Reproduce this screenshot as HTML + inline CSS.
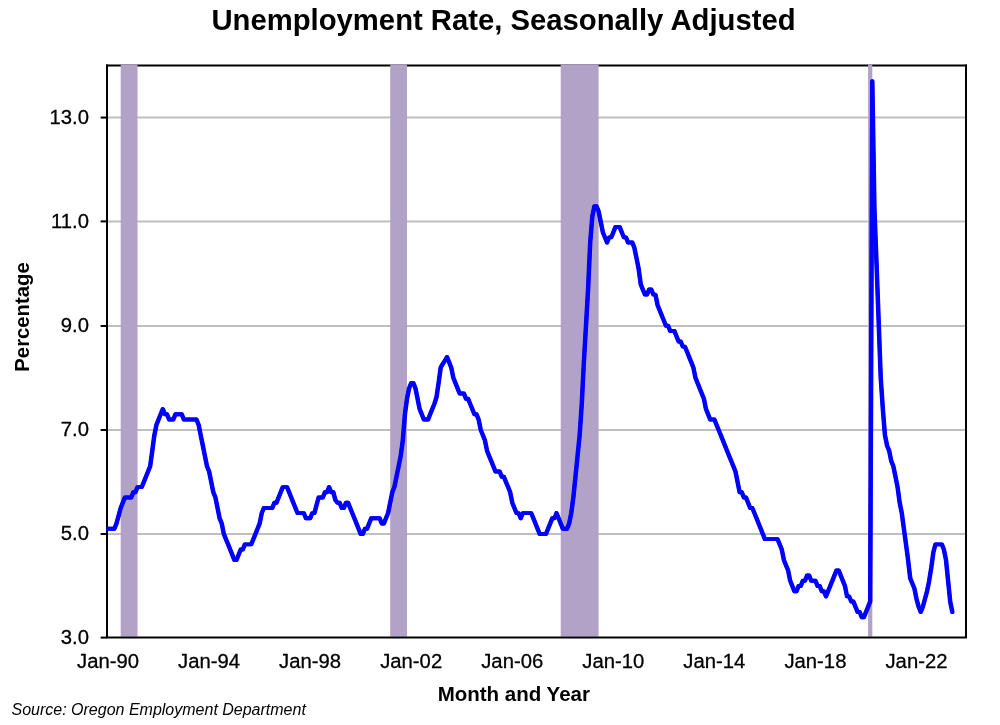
<!DOCTYPE html>
<html lang="en">
<head>
<meta charset="utf-8">
<title>Unemployment Rate, Seasonally Adjusted</title>
<style>
html,body{margin:0;padding:0;background:#fff;}
body{width:1000px;height:725px;overflow:hidden;font-family:"Liberation Sans",sans-serif;}
svg{display:block;}
text{font-family:"Liberation Sans",sans-serif;fill:#000;}
.t{font-size:20.3px;stroke:#000;stroke-width:0.28px;}
.b{font-size:20.3px;font-weight:bold;}
.title{font-size:29.25px;font-weight:bold;}
.src{font-size:16px;font-style:italic;}
</style>
</head>
<body>
<svg width="1000" height="725" viewBox="0 0 1000 725">
<rect x="0" y="0" width="1000" height="725" fill="#ffffff"/>
<text x="503.5" y="30" text-anchor="middle" class="title">Unemployment Rate, Seasonally Adjusted</text>
<g>
<line x1="107.0" x2="966.0" y1="534.00" y2="534.00" stroke="#bfbfbf" stroke-width="2"/>
<line x1="107.0" x2="966.0" y1="430.00" y2="430.00" stroke="#bfbfbf" stroke-width="2"/>
<line x1="107.0" x2="966.0" y1="326.00" y2="326.00" stroke="#bfbfbf" stroke-width="2"/>
<line x1="107.0" x2="966.0" y1="221.40" y2="221.40" stroke="#bfbfbf" stroke-width="2"/>
<line x1="107.0" x2="966.0" y1="117.55" y2="117.55" stroke="#bfbfbf" stroke-width="2"/>
</g>
<path d="M106.0 65.5H967.0" fill="none" stroke="#000" stroke-width="2"/>
<g>
<rect x="120.69" y="64.50" width="16.84" height="572.10" fill="#b3a2c7"/>
<rect x="390.18" y="64.50" width="16.84" height="572.10" fill="#b3a2c7"/>
<rect x="560.71" y="64.50" width="37.90" height="572.10" fill="#b3a2c7"/>
<rect x="868.10" y="64.50" width="4.21" height="572.10" fill="#b3a2c7"/>
</g>
<path d="M107.0 64.5V638.6M966.0 64.5V638.6M106.0 637.6H967.0" fill="none" stroke="#000" stroke-width="2"/>
<g>
<line x1="100.6" x2="107.0" y1="637.60" y2="637.60" stroke="#000" stroke-width="2"/>
<line x1="100.6" x2="107.0" y1="534.00" y2="534.00" stroke="#000" stroke-width="2"/>
<line x1="100.6" x2="107.0" y1="430.00" y2="430.00" stroke="#000" stroke-width="2"/>
<line x1="100.6" x2="107.0" y1="326.00" y2="326.00" stroke="#000" stroke-width="2"/>
<line x1="100.6" x2="107.0" y1="221.40" y2="221.40" stroke="#000" stroke-width="2"/>
<line x1="100.6" x2="107.0" y1="117.55" y2="117.55" stroke="#000" stroke-width="2"/>
</g>
<g fill="none" stroke="#0000ff" stroke-width="3.95" stroke-linejoin="round" stroke-linecap="round">
<polyline transform="translate(-0.27 0)" points="108.05,528.74 110.16,528.74 112.26,528.74 114.37,528.74 116.47,523.53 118.58,515.73 120.69,507.93 122.79,502.72 124.90,497.52 127.00,497.52 129.11,497.52 131.21,497.52 133.32,492.32 135.42,492.32 137.53,487.11 139.63,487.11 141.74,487.11 143.84,481.91 145.95,476.71 148.06,471.50 150.16,466.30 152.27,450.69 154.37,435.08 156.48,424.68 158.58,419.47 160.69,414.27 162.79,409.07 164.90,414.27 167.00,414.27 169.11,419.47 171.21,419.47 173.32,419.47 175.43,414.27 177.53,414.27 179.64,414.27 181.74,414.27 183.85,419.47 185.95,419.47 188.06,419.47 190.16,419.47 192.27,419.47 194.37,419.47 196.48,419.47 198.58,424.68 200.69,435.08 202.80,445.49 204.90,455.89 207.01,466.30 209.11,471.50 211.22,481.91 213.32,492.32 215.43,497.52 217.53,507.93 219.64,518.33 221.74,523.53 223.85,533.94 225.95,539.14 228.06,544.35 230.17,549.55 232.27,554.75 234.38,559.96 236.48,559.96 238.59,554.75 240.69,549.55 242.80,549.55 244.90,544.35 247.01,544.35 249.11,544.35 251.22,544.35 253.32,539.14 255.43,533.94 257.54,528.74 259.64,523.53 261.75,513.13 263.85,507.93 265.96,507.93 268.06,507.93 270.17,507.93 272.27,507.93 274.38,502.72 276.48,502.72 278.59,497.52 280.69,492.32 282.80,487.11 284.91,487.11 287.01,487.11 289.12,492.32 291.22,497.52 293.33,502.72 295.43,507.93 297.54,513.13 299.64,513.13 301.75,513.13 303.85,513.13 305.96,518.33 308.06,518.33 310.17,518.33 312.28,513.13 314.38,513.13 316.49,505.32 318.59,497.52 320.70,497.52 322.80,497.52 324.91,492.32 327.01,492.32 329.12,487.11 331.22,492.32 333.33,492.32 335.44,500.12 337.54,502.72 339.65,502.72 341.75,507.93 343.86,507.93 345.96,502.72 348.07,502.72 350.17,507.93 352.28,513.13 354.38,518.33 356.49,523.53 358.59,528.74 360.70,533.94 362.81,533.94 364.91,528.74 367.02,528.74 369.12,523.53 371.23,518.33 373.33,518.33 375.44,518.33 377.54,518.33 379.65,518.33 381.75,523.53 383.86,523.53 385.96,518.33 388.07,513.13 390.18,502.72 392.28,492.32 394.39,487.11 396.49,476.71 398.60,466.30 400.70,455.89 402.81,440.29 404.91,414.27 407.02,398.66 409.12,388.26 411.23,383.05 413.33,383.05 415.44,388.26 417.55,398.66 419.65,409.07 421.76,414.27 423.86,419.47 425.97,419.47 428.07,419.47 430.18,414.27 432.28,409.07 434.39,403.87 436.49,397.10 438.60,383.05 440.70,367.44 442.81,363.80 444.92,360.68 447.02,357.04 449.13,362.24 451.23,367.44 453.34,377.85 455.44,383.05 457.55,388.26 459.65,393.46 461.76,393.46 463.86,393.46 465.97,398.66 468.07,398.66 470.18,403.87 472.29,409.07 474.39,414.27 476.50,414.27 478.60,419.47 480.71,429.88 482.81,435.08 484.92,440.29 487.02,450.69 489.13,455.89 491.23,461.10 493.34,466.30 495.44,471.50 497.55,471.50 499.66,471.50 501.76,476.71 503.87,476.71 505.97,481.91 508.08,487.11 510.18,492.32 512.29,502.72 514.39,507.93 516.50,513.13 518.60,513.13 520.71,518.33 522.81,513.13 524.92,513.13 527.03,513.13 529.13,513.13 531.24,513.13 533.34,518.33 535.45,523.53 537.55,528.74 539.66,533.94 541.76,533.94 543.87,533.94 545.97,533.94 548.08,528.74 550.19,523.53 552.29,518.33 554.40,518.33 556.50,513.13 558.61,518.33 560.71,523.53 562.82,528.74 564.92,528.74 567.03,528.74 569.13,523.53 571.24,513.13 573.34,497.52 575.45,476.71 577.56,455.89 579.66,435.08 581.77,403.87 583.87,362.24 585.98,325.82 588.08,289.40 590.19,242.57 592.29,216.56 594.40,206.15 596.50,206.15 598.61,211.35 600.71,221.76 602.82,232.17 604.93,237.37 607.03,242.57 609.14,237.37 611.24,237.37 613.35,232.17 615.45,226.96 617.56,226.96 619.66,226.96 621.77,232.17 623.87,237.37 625.98,237.37 628.08,242.57 630.19,242.57 632.30,242.57 634.40,247.77 636.51,258.18 638.61,268.59 640.72,284.20 642.82,289.40 644.93,294.60 647.03,294.60 649.14,289.40 651.24,289.40 653.35,294.60 655.45,294.60 657.56,305.01 659.67,310.21 661.77,315.41 663.88,320.62 665.98,325.82 668.09,325.82 670.19,331.02 672.30,331.02 674.40,331.02 676.51,336.23 678.61,341.43 680.72,341.43 682.82,346.63 684.93,346.63 687.04,351.83 689.14,357.04 691.25,362.24 693.35,367.44 695.46,377.85 697.56,383.05 699.67,388.26 701.77,393.46 703.88,398.66 705.98,409.07 708.09,414.27 710.19,419.47 712.30,419.47 714.41,419.47 716.51,424.68 718.62,429.88 720.72,435.08 722.83,440.29 724.93,445.49 727.04,450.69 729.14,455.89 731.25,461.10 733.35,466.30 735.46,471.50 737.56,481.91 739.67,492.32 741.78,492.32 743.88,497.52 745.99,497.52 748.09,502.72 750.20,507.93 752.30,507.93 754.41,513.13 756.51,518.33 758.62,523.53 760.72,528.74 762.83,533.94 764.94,539.14 767.04,539.14 769.15,539.14 771.25,539.14 773.36,539.14 775.46,539.14 777.57,539.14 779.67,544.35 781.78,549.55 783.88,559.96 785.99,565.16 788.09,570.36 790.20,580.77 792.31,585.97 794.41,591.17 796.52,591.17 798.62,585.97 800.73,585.97 802.83,580.77 804.94,580.77 807.04,575.56 809.15,575.56 811.25,580.77 813.36,580.77 815.46,580.77 817.57,585.97 819.68,585.97 821.78,591.17 823.89,591.17 825.99,596.38 828.10,591.17 830.20,585.97 832.31,580.77 834.41,575.56 836.52,570.36 838.62,570.36 840.73,575.56 842.83,580.77 844.94,585.97 847.05,596.38 849.15,596.38 851.26,601.58 853.36,601.58 855.47,606.78 857.57,611.99 859.68,611.99 861.78,617.19 863.89,617.19 865.99,611.99 868.10,606.78 870.20,601.58 872.31,81.28 874.42,208.75 876.52,263.38 878.63,320.62 880.73,377.85 882.84,409.07 884.94,435.08 887.05,445.49 889.15,450.69 891.26,461.10 893.36,466.30 895.47,476.71 897.57,487.11 899.68,502.72 901.79,513.13 903.89,528.74 906.00,544.35 908.10,559.96 910.21,578.17 912.31,583.37 914.42,588.57 916.52,598.98 918.63,606.78 920.73,611.99 922.84,606.78 924.94,598.98 927.05,591.17 929.16,580.77 931.26,567.76 933.37,552.15 935.47,544.35 937.58,544.35 939.68,544.35 941.79,544.35 943.89,549.55 946.00,559.96 948.10,580.77 950.21,601.58 952.31,611.99"/>
<polyline transform="translate(0.27 0)" points="108.05,528.74 110.16,528.74 112.26,528.74 114.37,528.74 116.47,523.53 118.58,515.73 120.69,507.93 122.79,502.72 124.90,497.52 127.00,497.52 129.11,497.52 131.21,497.52 133.32,492.32 135.42,492.32 137.53,487.11 139.63,487.11 141.74,487.11 143.84,481.91 145.95,476.71 148.06,471.50 150.16,466.30 152.27,450.69 154.37,435.08 156.48,424.68 158.58,419.47 160.69,414.27 162.79,409.07 164.90,414.27 167.00,414.27 169.11,419.47 171.21,419.47 173.32,419.47 175.43,414.27 177.53,414.27 179.64,414.27 181.74,414.27 183.85,419.47 185.95,419.47 188.06,419.47 190.16,419.47 192.27,419.47 194.37,419.47 196.48,419.47 198.58,424.68 200.69,435.08 202.80,445.49 204.90,455.89 207.01,466.30 209.11,471.50 211.22,481.91 213.32,492.32 215.43,497.52 217.53,507.93 219.64,518.33 221.74,523.53 223.85,533.94 225.95,539.14 228.06,544.35 230.17,549.55 232.27,554.75 234.38,559.96 236.48,559.96 238.59,554.75 240.69,549.55 242.80,549.55 244.90,544.35 247.01,544.35 249.11,544.35 251.22,544.35 253.32,539.14 255.43,533.94 257.54,528.74 259.64,523.53 261.75,513.13 263.85,507.93 265.96,507.93 268.06,507.93 270.17,507.93 272.27,507.93 274.38,502.72 276.48,502.72 278.59,497.52 280.69,492.32 282.80,487.11 284.91,487.11 287.01,487.11 289.12,492.32 291.22,497.52 293.33,502.72 295.43,507.93 297.54,513.13 299.64,513.13 301.75,513.13 303.85,513.13 305.96,518.33 308.06,518.33 310.17,518.33 312.28,513.13 314.38,513.13 316.49,505.32 318.59,497.52 320.70,497.52 322.80,497.52 324.91,492.32 327.01,492.32 329.12,487.11 331.22,492.32 333.33,492.32 335.44,500.12 337.54,502.72 339.65,502.72 341.75,507.93 343.86,507.93 345.96,502.72 348.07,502.72 350.17,507.93 352.28,513.13 354.38,518.33 356.49,523.53 358.59,528.74 360.70,533.94 362.81,533.94 364.91,528.74 367.02,528.74 369.12,523.53 371.23,518.33 373.33,518.33 375.44,518.33 377.54,518.33 379.65,518.33 381.75,523.53 383.86,523.53 385.96,518.33 388.07,513.13 390.18,502.72 392.28,492.32 394.39,487.11 396.49,476.71 398.60,466.30 400.70,455.89 402.81,440.29 404.91,414.27 407.02,398.66 409.12,388.26 411.23,383.05 413.33,383.05 415.44,388.26 417.55,398.66 419.65,409.07 421.76,414.27 423.86,419.47 425.97,419.47 428.07,419.47 430.18,414.27 432.28,409.07 434.39,403.87 436.49,397.10 438.60,383.05 440.70,367.44 442.81,363.80 444.92,360.68 447.02,357.04 449.13,362.24 451.23,367.44 453.34,377.85 455.44,383.05 457.55,388.26 459.65,393.46 461.76,393.46 463.86,393.46 465.97,398.66 468.07,398.66 470.18,403.87 472.29,409.07 474.39,414.27 476.50,414.27 478.60,419.47 480.71,429.88 482.81,435.08 484.92,440.29 487.02,450.69 489.13,455.89 491.23,461.10 493.34,466.30 495.44,471.50 497.55,471.50 499.66,471.50 501.76,476.71 503.87,476.71 505.97,481.91 508.08,487.11 510.18,492.32 512.29,502.72 514.39,507.93 516.50,513.13 518.60,513.13 520.71,518.33 522.81,513.13 524.92,513.13 527.03,513.13 529.13,513.13 531.24,513.13 533.34,518.33 535.45,523.53 537.55,528.74 539.66,533.94 541.76,533.94 543.87,533.94 545.97,533.94 548.08,528.74 550.19,523.53 552.29,518.33 554.40,518.33 556.50,513.13 558.61,518.33 560.71,523.53 562.82,528.74 564.92,528.74 567.03,528.74 569.13,523.53 571.24,513.13 573.34,497.52 575.45,476.71 577.56,455.89 579.66,435.08 581.77,403.87 583.87,362.24 585.98,325.82 588.08,289.40 590.19,242.57 592.29,216.56 594.40,206.15 596.50,206.15 598.61,211.35 600.71,221.76 602.82,232.17 604.93,237.37 607.03,242.57 609.14,237.37 611.24,237.37 613.35,232.17 615.45,226.96 617.56,226.96 619.66,226.96 621.77,232.17 623.87,237.37 625.98,237.37 628.08,242.57 630.19,242.57 632.30,242.57 634.40,247.77 636.51,258.18 638.61,268.59 640.72,284.20 642.82,289.40 644.93,294.60 647.03,294.60 649.14,289.40 651.24,289.40 653.35,294.60 655.45,294.60 657.56,305.01 659.67,310.21 661.77,315.41 663.88,320.62 665.98,325.82 668.09,325.82 670.19,331.02 672.30,331.02 674.40,331.02 676.51,336.23 678.61,341.43 680.72,341.43 682.82,346.63 684.93,346.63 687.04,351.83 689.14,357.04 691.25,362.24 693.35,367.44 695.46,377.85 697.56,383.05 699.67,388.26 701.77,393.46 703.88,398.66 705.98,409.07 708.09,414.27 710.19,419.47 712.30,419.47 714.41,419.47 716.51,424.68 718.62,429.88 720.72,435.08 722.83,440.29 724.93,445.49 727.04,450.69 729.14,455.89 731.25,461.10 733.35,466.30 735.46,471.50 737.56,481.91 739.67,492.32 741.78,492.32 743.88,497.52 745.99,497.52 748.09,502.72 750.20,507.93 752.30,507.93 754.41,513.13 756.51,518.33 758.62,523.53 760.72,528.74 762.83,533.94 764.94,539.14 767.04,539.14 769.15,539.14 771.25,539.14 773.36,539.14 775.46,539.14 777.57,539.14 779.67,544.35 781.78,549.55 783.88,559.96 785.99,565.16 788.09,570.36 790.20,580.77 792.31,585.97 794.41,591.17 796.52,591.17 798.62,585.97 800.73,585.97 802.83,580.77 804.94,580.77 807.04,575.56 809.15,575.56 811.25,580.77 813.36,580.77 815.46,580.77 817.57,585.97 819.68,585.97 821.78,591.17 823.89,591.17 825.99,596.38 828.10,591.17 830.20,585.97 832.31,580.77 834.41,575.56 836.52,570.36 838.62,570.36 840.73,575.56 842.83,580.77 844.94,585.97 847.05,596.38 849.15,596.38 851.26,601.58 853.36,601.58 855.47,606.78 857.57,611.99 859.68,611.99 861.78,617.19 863.89,617.19 865.99,611.99 868.10,606.78 870.20,601.58 872.31,81.28 874.42,208.75 876.52,263.38 878.63,320.62 880.73,377.85 882.84,409.07 884.94,435.08 887.05,445.49 889.15,450.69 891.26,461.10 893.36,466.30 895.47,476.71 897.57,487.11 899.68,502.72 901.79,513.13 903.89,528.74 906.00,544.35 908.10,559.96 910.21,578.17 912.31,583.37 914.42,588.57 916.52,598.98 918.63,606.78 920.73,611.99 922.84,606.78 924.94,598.98 927.05,591.17 929.16,580.77 931.26,567.76 933.37,552.15 935.47,544.35 937.58,544.35 939.68,544.35 941.79,544.35 943.89,549.55 946.00,559.96 948.10,580.77 950.21,601.58 952.31,611.99"/>
</g>
<g>
<text transform="translate(89 644.00) scale(1 1.035)" text-anchor="end" class="t">3.0</text>
<text transform="translate(89 540.40) scale(1 1.035)" text-anchor="end" class="t">5.0</text>
<text transform="translate(89 436.40) scale(1 1.035)" text-anchor="end" class="t">7.0</text>
<text transform="translate(89 332.40) scale(1 1.035)" text-anchor="end" class="t">9.0</text>
<text transform="translate(89 227.80) scale(1 1.035)" text-anchor="end" class="t">11.0</text>
<text transform="translate(89 123.95) scale(1 1.035)" text-anchor="end" class="t">13.0</text>
</g>
<g>
<text transform="translate(108.00 668.1) scale(1 1.035)" text-anchor="middle" class="t">Jan-90</text>
<text transform="translate(209.06 668.1) scale(1 1.035)" text-anchor="middle" class="t">Jan-94</text>
<text transform="translate(310.12 668.1) scale(1 1.035)" text-anchor="middle" class="t">Jan-98</text>
<text transform="translate(411.18 668.1) scale(1 1.035)" text-anchor="middle" class="t">Jan-02</text>
<text transform="translate(512.24 668.1) scale(1 1.035)" text-anchor="middle" class="t">Jan-06</text>
<text transform="translate(613.29 668.1) scale(1 1.035)" text-anchor="middle" class="t">Jan-10</text>
<text transform="translate(714.35 668.1) scale(1 1.035)" text-anchor="middle" class="t">Jan-14</text>
<text transform="translate(815.41 668.1) scale(1 1.035)" text-anchor="middle" class="t">Jan-18</text>
<text transform="translate(916.47 668.1) scale(1 1.035)" text-anchor="middle" class="t">Jan-22</text>
</g>
<text x="513.8" y="701" text-anchor="middle" class="b" style="font-size:20.5px">Month and Year</text>
<text transform="translate(29,317) rotate(-90)" text-anchor="middle" class="b">Percentage</text>
<text x="11.5" y="714.5" class="src">Source: Oregon Employment Department</text>
</svg>
</body>
</html>
